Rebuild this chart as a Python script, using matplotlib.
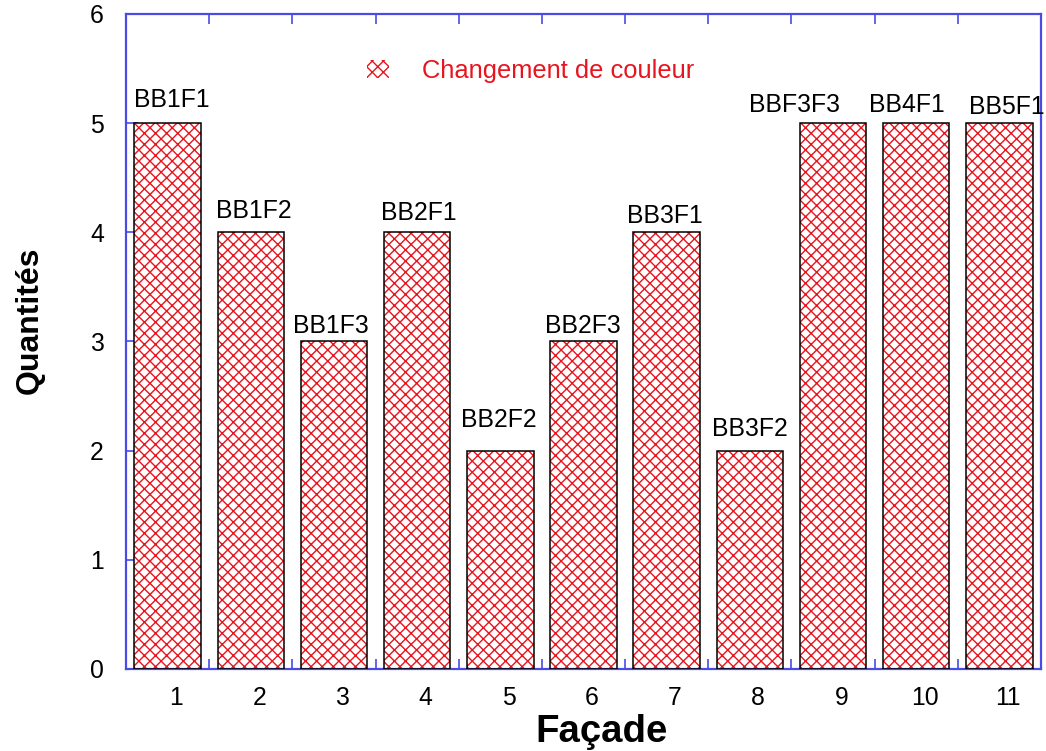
import matplotlib
matplotlib.use("Agg")
import matplotlib.pyplot as plt
from matplotlib.patches import Patch
from matplotlib.ticker import FixedLocator, NullFormatter
import matplotlib.transforms as mtransforms

facades = [1, 2, 3, 4, 5, 6, 7, 8, 9, 10, 11]
quantites = [5, 4, 3, 4, 2, 3, 4, 2, 5, 5, 5]
codes = ["BB1F1", "BB1F2", "BB1F3", "BB2F1", "BB2F2", "BB2F3",
         "BB3F1", "BB3F2", "BBF3F3", "BB4F1", "BB5F1"]
legend_label = "Changement de couleur"

# hand placement of each code label relative to its bar top (points)
label_dx = [1.4, 1.1, -1.1, 0.7, -0.4, -0.4, -0.7, 0.0, -14.0, -3.2, 2.5]
label_dy = [8.3, 7.6, 5.4, 6.8, 11.2, 5.4, 5.8, 7.9, 6.5, 6.5, 5.8]

plt.rcParams["font.family"] = ["Liberation Sans", "DejaVu Sans"]
plt.rcParams["hatch.linewidth"] = 0.5

spine_blue = "#4a4ae6"
hatch_red = "#e8141e"
crosshatch = "xxxxxx"

fig = plt.figure(figsize=(5.23, 3.755), dpi=200)
ax = fig.add_axes([0.1205, 0.1092, 0.8747, 0.8722])

# hatched fill, then black outline on top
ax.bar(facades, quantites, width=0.8, facecolor="white", edgecolor=hatch_red,
       hatch=crosshatch, linewidth=0, zorder=2)
ax.bar(facades, quantites, width=0.8, fill=False, edgecolor="black",
       linewidth=0.55, zorder=3)

for x, y, code, dx, dy in zip(facades, quantites, codes, label_dx, label_dy):
    ax.annotate(code, (x, y), xytext=(dx, dy), textcoords="offset points",
                ha="center", va="center", fontsize=8.9, color="black",
                annotation_clip=False)

ax.set_xlim(0.5, 11.5)
ax.set_ylim(0, 6)

for s in ax.spines.values():
    s.set_color(spine_blue)
    s.set_linewidth(0.8)

# x: labels at bar centers, tick marks at slot boundaries
ax.set_xticks(facades)
ax.set_xticklabels([str(f) for f in facades], fontsize=8.9)
ax.tick_params(axis="x", which="major", length=0, pad=6)
for lbl in ax.get_xticklabels():
    lbl.set_transform(lbl.get_transform() +
                      mtransforms.ScaledTranslation(3 / 72, 0, fig.dpi_scale_trans))
ax.xaxis.set_minor_locator(FixedLocator([k + 0.5 for k in facades[:-1]]))
ax.xaxis.set_minor_formatter(NullFormatter())
ax.tick_params(axis="x", which="minor", direction="in", length=3.5,
               width=0.6, color=spine_blue, top=True, bottom=True)

ax.set_yticks(range(0, 7))
ax.tick_params(axis="y", which="major", direction="in", length=4.3,
               width=0.6, color=spine_blue, labelsize=8.9, pad=8)

ax.set_xlabel("Façade", fontsize=13.8, fontweight="bold")
ax.xaxis.label.set_va("center")
ax.xaxis.set_label_coords(0.52, -0.096)
ax.set_ylabel("Quantités", fontsize=11.5, fontweight="bold")
ax.yaxis.label.set_va("center")
ax.yaxis.set_label_coords(-0.105, 0.533)

handle = Patch(facecolor="white", edgecolor=hatch_red, hatch=crosshatch,
               linewidth=0)
leg = fig.legend([handle], [legend_label], loc="center left",
                 bbox_to_anchor=(367 / 1046, 1 - 71 / 751),
                 bbox_transform=fig.transFigure, frameon=False, fontsize=9.2,
                 handlelength=0.86, handleheight=0.7, handletextpad=1.3,
                 borderpad=0, borderaxespad=0)
for t in leg.get_texts():
    t.set_color(hatch_red)

fig.savefig("out.png", dpi=200)
